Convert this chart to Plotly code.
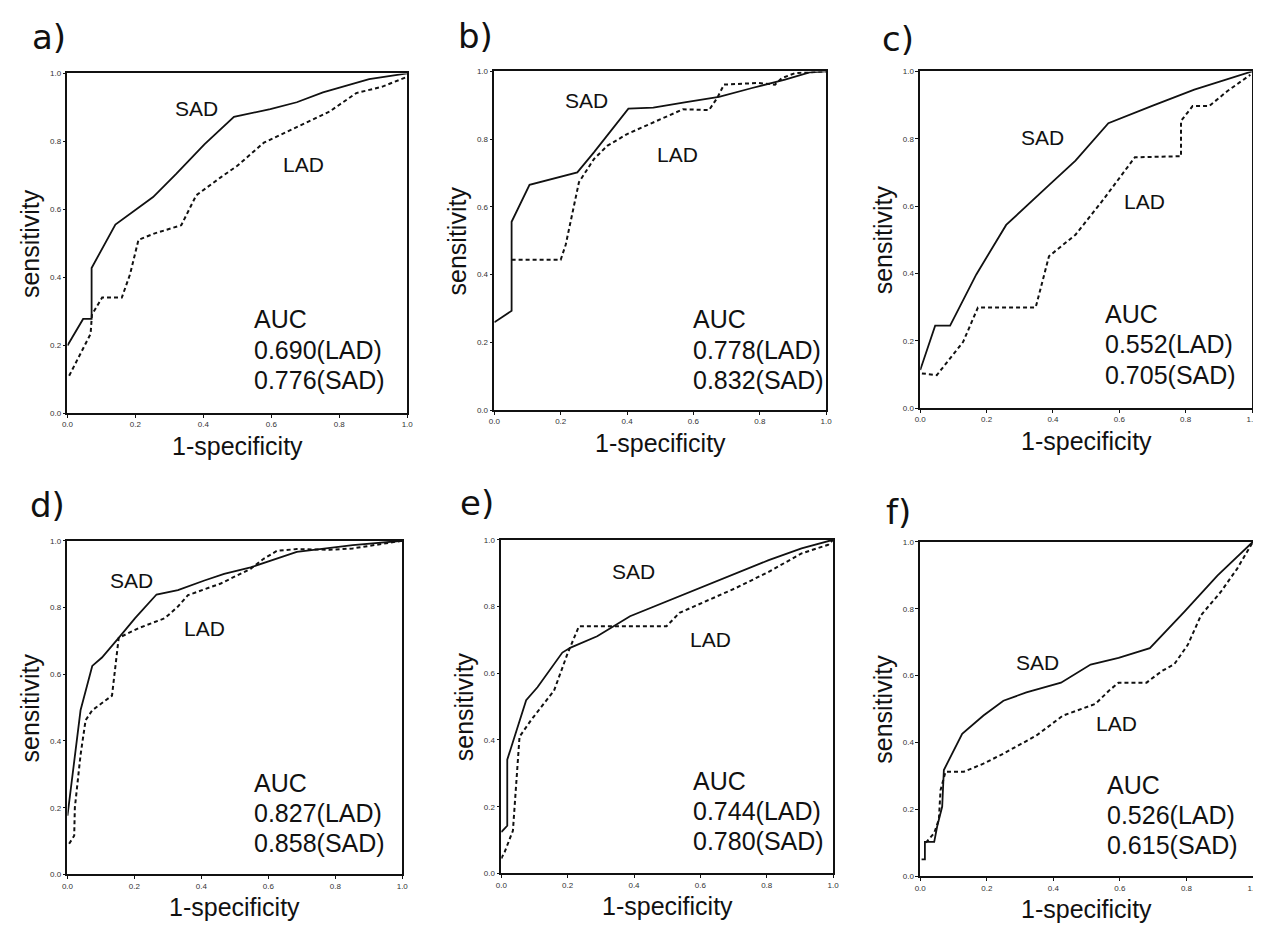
import plotly.graph_objects as go

# The page body has an 8px margin, so the figure is drawn 8px in from the top-left corner.
OFF = 8
W, H = 1261 - OFF, 926 - OFF

panel_names = ["a)", "b)", "c)", "d)", "e)", "f)"]

# ROC curves: (1-specificity, sensitivity)
sad_a_x = [0.0, 0.046, 0.071, 0.071, 0.141, 0.18, 0.252, 0.32, 0.403, 0.49, 0.597, 0.675, 0.752, 0.888, 1.0]
sad_a_y = [0.199, 0.277, 0.277, 0.427, 0.555, 0.583, 0.636, 0.704, 0.791, 0.872, 0.895, 0.915, 0.944, 0.983, 1.0]
lad_a_x = [0.005, 0.068, 0.072, 0.102, 0.16, 0.184, 0.209, 0.257, 0.335, 0.379, 0.451, 0.5, 0.578, 0.694, 0.772, 0.85, 0.927, 1.0]
lad_a_y = [0.11, 0.233, 0.29, 0.34, 0.34, 0.408, 0.51, 0.529, 0.553, 0.641, 0.694, 0.728, 0.796, 0.85, 0.888, 0.942, 0.961, 0.99]

sad_b_x = [0.0, 0.052, 0.052, 0.106, 0.25, 0.3, 0.404, 0.479, 0.578, 0.677, 0.777, 0.876, 0.95, 1.0]
sad_b_y = [0.259, 0.293, 0.556, 0.665, 0.702, 0.761, 0.89, 0.893, 0.909, 0.925, 0.951, 0.976, 0.997, 1.0]
lad_b_x = [0.052, 0.2, 0.215, 0.235, 0.255, 0.3, 0.34, 0.4, 0.479, 0.568, 0.647, 0.672, 0.692, 0.767, 0.796, 0.846, 0.866, 0.906, 1.0]
lad_b_y = [0.444, 0.444, 0.488, 0.576, 0.673, 0.741, 0.78, 0.815, 0.849, 0.888, 0.886, 0.922, 0.961, 0.964, 0.966, 0.961, 0.98, 0.995, 1.0]

sad_c_x = [0.0, 0.045, 0.09, 0.169, 0.259, 0.308, 0.388, 0.468, 0.567, 0.697, 0.826, 1.0]
sad_c_y = [0.113, 0.245, 0.245, 0.397, 0.544, 0.588, 0.662, 0.735, 0.846, 0.897, 0.946, 1.0]
lad_c_x = [0.005, 0.05, 0.129, 0.174, 0.348, 0.388, 0.468, 0.547, 0.647, 0.786, 0.786, 0.821, 0.871, 0.925, 0.995]
lad_c_y = [0.103, 0.098, 0.196, 0.299, 0.299, 0.451, 0.515, 0.613, 0.745, 0.748, 0.853, 0.897, 0.897, 0.941, 0.99]

sad_d_x = [0.0, 0.039, 0.074, 0.103, 0.153, 0.202, 0.266, 0.33, 0.409, 0.468, 0.547, 0.606, 0.685, 0.754, 0.852, 1.0]
sad_d_y = [0.176, 0.492, 0.625, 0.65, 0.709, 0.768, 0.839, 0.852, 0.881, 0.901, 0.92, 0.94, 0.967, 0.975, 0.987, 1.0]
lad_d_x = [0.005, 0.02, 0.022, 0.039, 0.054, 0.074, 0.133, 0.148, 0.153, 0.212, 0.291, 0.33, 0.36, 0.458, 0.547, 0.586, 0.626, 0.685, 0.783, 0.852, 0.911, 1.0]
lad_d_y = [0.092, 0.116, 0.2, 0.358, 0.462, 0.492, 0.536, 0.669, 0.709, 0.738, 0.768, 0.803, 0.837, 0.872, 0.916, 0.946, 0.97, 0.975, 0.973, 0.977, 0.987, 1.0]

sad_e_x = [0.0, 0.018, 0.018, 0.075, 0.109, 0.184, 0.209, 0.289, 0.388, 0.498, 0.607, 0.706, 0.806, 0.905, 1.0]
sad_e_y = [0.124, 0.143, 0.341, 0.519, 0.558, 0.662, 0.677, 0.711, 0.771, 0.815, 0.86, 0.899, 0.939, 0.974, 1.0]
lad_e_x = [0.0, 0.01, 0.035, 0.055, 0.09, 0.159, 0.199, 0.234, 0.299, 0.378, 0.498, 0.537, 0.617, 0.706, 0.806, 0.905, 0.985, 1.0]
lad_e_y = [0.045, 0.064, 0.128, 0.41, 0.46, 0.548, 0.657, 0.741, 0.741, 0.741, 0.741, 0.781, 0.815, 0.855, 0.904, 0.959, 0.985, 1.0]

sad_f_x = [0.004, 0.014, 0.014, 0.042, 0.051, 0.066, 0.071, 0.126, 0.19, 0.25, 0.319, 0.423, 0.512, 0.596, 0.69, 0.794, 0.893, 1.0]
sad_f_y = [0.051, 0.051, 0.103, 0.103, 0.15, 0.209, 0.318, 0.426, 0.481, 0.525, 0.55, 0.579, 0.633, 0.653, 0.682, 0.791, 0.899, 1.0]
lad_f_x = [0.017, 0.042, 0.056, 0.061, 0.076, 0.131, 0.19, 0.25, 0.349, 0.428, 0.527, 0.566, 0.596, 0.68, 0.725, 0.764, 0.804, 0.844, 0.903, 0.952, 1.0]
lad_f_y = [0.101, 0.13, 0.17, 0.258, 0.313, 0.313, 0.337, 0.367, 0.421, 0.48, 0.516, 0.554, 0.579, 0.579, 0.613, 0.635, 0.692, 0.781, 0.85, 0.919, 1.0]

sad_x = [sad_a_x, sad_b_x, sad_c_x, sad_d_x, sad_e_x, sad_f_x]
sad_y = [sad_a_y, sad_b_y, sad_c_y, sad_d_y, sad_e_y, sad_f_y]
lad_x = [lad_a_x, lad_b_x, lad_c_x, lad_d_x, lad_e_x, lad_f_x]
lad_y = [lad_a_y, lad_b_y, lad_c_y, lad_d_y, lad_e_y, lad_f_y]

auc_lad = ["0.690", "0.778", "0.552", "0.827", "0.744", "0.526"]
auc_sad = ["0.776", "0.832", "0.705", "0.858", "0.780", "0.615"]

# label positions in data coords
sad_label_pos = [(0.381, 0.898), (0.277, 0.914), (0.37, 0.804), (0.192, 0.88), (0.398, 0.904), (0.351, 0.638)]
lad_label_pos = [(0.694, 0.733), (0.553, 0.756), (0.677, 0.613), (0.409, 0.737), (0.63, 0.702), (0.591, 0.456)]
auc_pos = [(0.544, 0.277), (0.593, 0.268), (0.552, 0.279), (0.552, 0.274), (0.572, 0.277), (0.554, 0.273)]

tick_vals = [0.0, 0.2, 0.4, 0.6, 0.8, 1.0]
tick_text = ["0.0", "0.2", "0.4", "0.6", "0.8", "1.0"]

# plot area boxes in page pixels: left, right, top, bottom
boxes = [(62, 405, 70, 413), (493, 828, 68, 410), (923, 1258, 68, 408),
         (62, 400, 542, 879), (500, 835, 541, 878), (923, 1259, 543, 881)]
# panel letter positions (left x, center y) in page pixels
letter_pos = [(24, 33), (454, 32), (882, 35), (22, 506), (456, 504), (886, 513)]


def px(v):
    return (v - OFF) / W


def py(v):
    return 1 - (v - OFF) / H


fig = go.Figure()
annotations = []
FONT = "Liberation Sans, Arial, sans-serif"

for i in range(6):
    sfx = "" if i == 0 else str(i + 1)
    xa, ya = "x" + sfx, "y" + sfx
    l, r, t, b = boxes[i]
    fig.add_trace(go.Scatter(x=lad_x[i], y=lad_y[i], mode="lines", xaxis=xa, yaxis=ya,
                             line=dict(color="#111", width=2, dash="4px,3px"), showlegend=False))
    fig.add_trace(go.Scatter(x=sad_x[i], y=sad_y[i], mode="lines", xaxis=xa, yaxis=ya,
                             line=dict(color="#111", width=1.8), showlegend=False))
    axis_common = dict(range=[0, 1], tickvals=tick_vals, ticktext=tick_text, showgrid=False,
                       zeroline=False, showline=True, linecolor="#111", linewidth=1.5, mirror=True,
                       ticks="outside", ticklen=3, tickwidth=1, tickcolor="#111",
                       tickfont=dict(family=FONT, size=8, color="#333"), fixedrange=True)
    fig.layout["xaxis" + sfx] = dict(axis_common, domain=[px(l), px(r)], anchor=ya)
    fig.layout["yaxis" + sfx] = dict(axis_common, domain=[py(b), py(t)], anchor=xa)

    annotations.append(dict(text="SAD", x=sad_label_pos[i][0], y=sad_label_pos[i][1], xref=xa, yref=ya,
                            showarrow=False, font=dict(family=FONT, size=21, color="#111")))
    annotations.append(dict(text="LAD", x=lad_label_pos[i][0], y=lad_label_pos[i][1], xref=xa, yref=ya,
                            showarrow=False, font=dict(family=FONT, size=21, color="#111")))
    ax_, ay_ = auc_pos[i]
    lines = ["AUC", auc_lad[i] + "(LAD)", auc_sad[i] + "(SAD)"]
    for k, txt in enumerate(lines):
        annotations.append(dict(text=txt, x=ax_, y=ay_ - k * 0.09, xref=xa, yref=ya,
                                xanchor="left", yanchor="middle", showarrow=False,
                                font=dict(family=FONT, size=25, color="#111")))
    # axis titles
    annotations.append(dict(text="sensitivity", x=px(l - 38), y=py((t + b) / 2), xref="paper", yref="paper",
                            textangle=-90, xanchor="center", yanchor="middle", showarrow=False,
                            font=dict(family=FONT, size=25, color="#111")))
    annotations.append(dict(text="1-specificity", x=px((l + r) / 2), y=py(b + 33), xref="paper", yref="paper",
                            xanchor="center", yanchor="middle", showarrow=False,
                            font=dict(family=FONT, size=25, color="#111")))
    lx, ly = letter_pos[i]
    annotations.append(dict(text=panel_names[i], x=px(lx), y=py(ly), xref="paper", yref="paper",
                            xanchor="left", yanchor="middle", showarrow=False,
                            font=dict(family="DejaVu Sans, sans-serif", size=34, color="#111")))

fig.update_layout(width=W, height=H, margin=dict(l=0, r=0, t=0, b=0),
                  paper_bgcolor="white", plot_bgcolor="white", annotations=annotations, showlegend=False)

fig.write_html("out.html", config={"displayModeBar": False})
